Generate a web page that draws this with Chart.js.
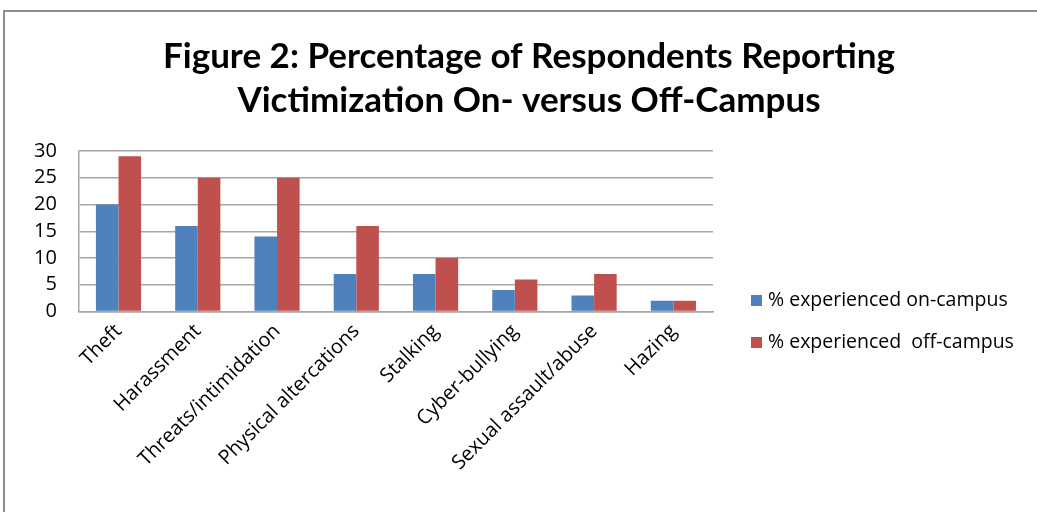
<!DOCTYPE html>
<html>
<head>
<meta charset="utf-8">
<script src="https://cdn.jsdelivr.net/npm/chart.js@4/dist/chart.umd.min.js"></script>
<style>
  html, body { margin: 0; padding: 0; background: #fff; }
  #frame { position: absolute; left: 3px; top: 10px; width: 1040px; height: 510px;
           border-top: 2px solid #8e8e8e; border-left: 2px solid #8e8e8e; }
  #wrap { position: absolute; left: 0; top: 0; width: 1037px; height: 512px; }
</style>
</head>
<body>
<div id="frame"></div>
<div id="wrap"><canvas id="c" width="1037" height="512"></canvas></div>
<script>
const titleLines = ["Figure 2: Percentage of Respondents Reporting", "Victimization On- versus Off-Campus"];
const categories = ["Theft", "Harassment", "Threats/intimidation", "Physical altercations", "Stalking", "Cyber-bullying", "Sexual assault/abuse", "Hazing"];
const onCampus = [20, 16, 14, 7, 7, 4, 3, 2];
const offCampus = [29, 25, 25, 16, 10, 6, 7, 2];
const seriesNames = ["% experienced on-campus", "% experienced  off-campus"];

const FONT = "'Open Sans', Lato, sans-serif";
const TFONT = "Lato, 'Open Sans', sans-serif";

const overlay = {
  id: 'overlay',
  afterDraw(chart) {
    const ctx = chart.ctx;
    ctx.save();
    ctx.fillStyle = '#000';
    ctx.font = "bold 35px " + TFONT;
    ctx.textAlign = 'center';
    ctx.textBaseline = 'alphabetic';
    ctx.fillText(titleLines[0], 529, 68);
    ctx.fillText(titleLines[1], 529, 112);
    ctx.font = "19.5px " + FONT;
    ctx.textAlign = 'left';
    ctx.textBaseline = 'middle';
    const ys = [300, 342];
    chart.data.datasets.forEach((ds, i) => {
      ctx.fillStyle = ds.backgroundColor;
      ctx.fillRect(751, ys[i] - 5, 11, 11);
      ctx.fillStyle = '#000';
      ctx.fillText(ds.label, 768, ys[i]);
    });
    ctx.restore();
  }
};

new Chart(document.getElementById('c'), {
  type: 'bar',
  data: {
    labels: categories,
    datasets: [
      { label: seriesNames[0], data: onCampus, backgroundColor: '#4F81BD' },
      { label: seriesNames[1], data: offCampus, backgroundColor: '#C0504D' }
    ]
  },
  options: {
    responsive: false,
    animation: false,
    layout: { padding: { left: 12, right: 324, top: 151, bottom: 40 } },
    plugins: { legend: { display: false }, title: { display: false }, tooltip: { enabled: false } },
    datasets: { bar: { categoryPercentage: 0.57, barPercentage: 1.0 } },
    scales: {
      x: {
        grid: { display: false, drawTicks: false },
        border: { display: true, color: '#a6a6a6', width: 1.5 },
        ticks: { color: '#000', font: { family: FONT, size: 20 }, minRotation: 45, maxRotation: 45, padding: 8, autoSkip: false }
      },
      y: {
        min: 0, max: 30,
        grid: { color: '#a6a6a6', lineWidth: 1.5, drawTicks: false },
        border: { display: true, color: '#a6a6a6', width: 1.5 },
        ticks: { stepSize: 5, autoSkip: false, color: '#000', font: { family: FONT, size: 20 }, padding: 22 }
      }
    }
  },
  plugins: [overlay]
});
</script>
</body>
</html>
